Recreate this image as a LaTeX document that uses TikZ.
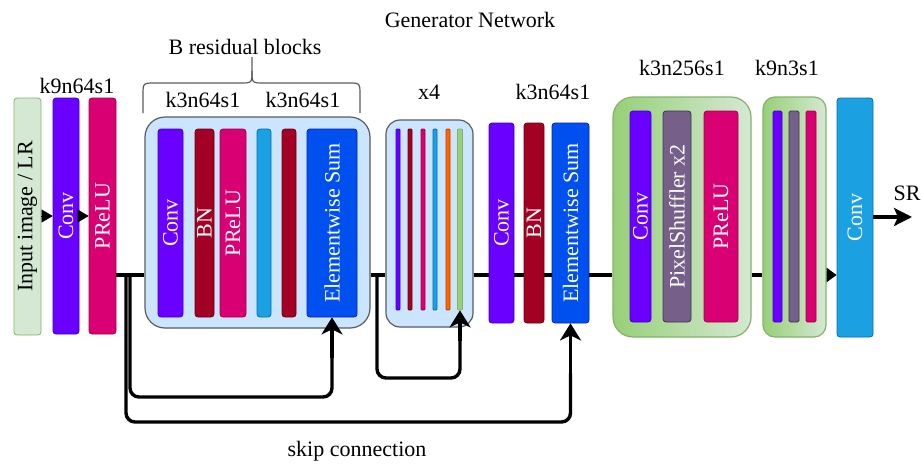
\documentclass[tikz,border=0pt]{standalone}
\usepackage{fontspec}
\setmainfont{Liberation Serif}
\usetikzlibrary{arrows.meta,calc}
\definecolor{cpurple}{HTML}{6A00FF}\definecolor{spurple}{HTML}{3700CC}
\definecolor{cpink}{HTML}{D80073}\definecolor{spink}{HTML}{A50040}
\definecolor{cdred}{HTML}{A20025}\definecolor{sdred}{HTML}{6F0000}
\definecolor{ccyan}{HTML}{1BA1E2}\definecolor{scyan}{HTML}{006EAF}
\definecolor{cblue}{HTML}{0050EF}\definecolor{sblue}{HTML}{001DBC}
\definecolor{corange}{HTML}{FA6800}\definecolor{sorange}{HTML}{C73500}
\definecolor{cmauve}{HTML}{76608A}\definecolor{smauve}{HTML}{432D57}
\definecolor{lgreen}{HTML}{D5E8D4}\definecolor{sgreen}{HTML}{82B366}
\definecolor{mgreen}{HTML}{97D077}
\definecolor{lblue}{HTML}{CCE5FF}\definecolor{sgray}{HTML}{5A5C60}
\tikzset{
  every node/.style={font=\fontsize{22}{26}\selectfont},
  bar/.style={draw, line width=0.8pt, rounded corners=3pt, inner sep=0pt},
  grp/.style={draw=sgray, line width=1.2pt, fill=lblue, inner sep=0pt},
  ggrp/.style={draw=sgreen, line width=1.2pt, left color=mgreen, right color=lgreen, inner sep=0pt},
  vtext/.style={rotate=90, text=white, inner sep=0pt},
  mainline/.style={line width=3.2pt},
  skipline/.style={line width=3.4pt, rounded corners=9pt},
  skiparrow/.style={line width=3.4pt, -{Stealth[length=17pt,width=21pt,inset=5pt]}},
  tri/.style={line width=0.5pt, -{Triangle[length=11pt,width=13pt]}},
  lbl/.style={inner sep=0pt}
}
\begin{document}
\begin{tikzpicture}[x=1pt,y=-1pt]
\useasboundingbox (0,0) rectangle (921,464);
% titles
\node[lbl] (title) at (470,20) {Generator Network};
\node[lbl] (brl) at (245,47) {B residual blocks};
\node[lbl] (k1) at (77,86) {k9n64s1};
\node[lbl] (k2) at (203,100) {k3n64s1};
\node[lbl] (k3) at (303,100) {k3n64s1};
\node[lbl] (k4) at (429,92) {x4};
\node[lbl] (k5) at (553,92) {k3n64s1};
\node[lbl] (k6) at (682,68) {k3n256s1};
\node[lbl] (k7) at (787,68) {k9n3s1};
\node[lbl] (sk) at (357,451) {skip connection};
% brace
\draw[line width=1.2pt, draw=sgray] (143,113) -- (143,95) .. controls (143,83) .. (155,83) -- (240,83) .. controls (252,83) .. (252,71) -- (252,57);
\draw[line width=1.2pt, draw=sgray] (360,113) -- (360,95) .. controls (360,83) .. (348,83) -- (264,83) .. controls (252,83) .. (252,71);
% groups
\node[grp, rounded corners=20pt, minimum width=225pt, minimum height=211pt] (res) at (257.5,222.5) {};
\node[grp, rounded corners=14pt, minimum width=87pt, minimum height=207pt] (xf) at (429.5,223.5) {};
\node[ggrp, rounded corners=20pt, minimum width=138pt, minimum height=240pt] (g1) at (682,217) {};
\node[ggrp, rounded corners=12pt, minimum width=63pt, minimum height=240pt] (g2) at (794.5,217) {};
% first blocks
\node[bar, draw=sgreen, fill=lgreen, minimum width=27pt, minimum height=237pt] (inp) at (27.5,216.5) {};
\node[vtext, text=black] (inpt) at (inp) {Input image / LR};
\node[bar, draw=spurple, fill=cpurple, minimum width=26pt, minimum height=236pt] (c1) at (66,216) {};
\node[vtext] (c1t) at (c1) {Conv};
\node[bar, draw=spink, fill=cpink, minimum width=27pt, minimum height=236pt] (p1) at (102.5,216) {};
\node[vtext] (p1t) at (p1) {PReLU};
% residual block
\node[bar, draw=spurple, fill=cpurple, minimum width=25pt, minimum height=188pt] (rc) at (170.5,223) {};
\node[vtext] (rct) at (rc) {Conv};
\node[bar, draw=sdred, fill=cdred, minimum width=19pt, minimum height=188pt] (rb) at (204.5,223) {};
\node[vtext] (rbt) at (rb) {BN};
\node[bar, draw=spink, fill=cpink, minimum width=26pt, minimum height=188pt] (rp) at (233,223) {};
\node[vtext] (rpt) at (rp) {PReLU};
\node[bar, draw=scyan, fill=ccyan, minimum width=14pt, minimum height=188pt] (rcy) at (264,223) {};
\node[bar, draw=sdred, fill=cdred, minimum width=14pt, minimum height=188pt] (rd) at (289,223) {};
\node[bar, draw=sblue, fill=cblue, minimum width=50pt, minimum height=188pt] (rs) at (332,223) {};
\node[vtext] (rst) at (rs) {Elementwise Sum};
% x4 lines
\node[bar, rounded corners=1pt, draw=spurple, fill=cpurple, minimum width=4pt, minimum height=181pt] (l1) at (398,219.5) {};
\node[bar, rounded corners=1pt, draw=sdred, fill=cdred, minimum width=4pt, minimum height=181pt] (l2) at (410,219.5) {};
\node[bar, rounded corners=1pt, draw=spink, fill=cpink, minimum width=4pt, minimum height=181pt] (l3) at (423,219.5) {};
\node[bar, rounded corners=1pt, draw=scyan, fill=ccyan, minimum width=4pt, minimum height=181pt] (l4) at (435,219.5) {};
\node[bar, rounded corners=1pt, draw=sorange, fill=corange, minimum width=4pt, minimum height=181pt] (l5) at (448,219.5) {};
\node[bar, rounded corners=1pt, draw=sgreen, fill=mgreen, minimum width=5pt, minimum height=181pt] (l6) at (460,219.5) {};
% after x4
\node[bar, draw=spurple, fill=cpurple, minimum width=25pt, minimum height=200pt] (c2) at (501.5,223) {};
\node[vtext] (c2t) at (c2) {Conv};
\node[bar, draw=sdred, fill=cdred, minimum width=20pt, minimum height=200pt] (b2) at (534,223) {};
\node[vtext] (b2t) at (b2) {BN};
\node[bar, draw=sblue, fill=cblue, minimum width=37pt, minimum height=200pt] (s2) at (570.5,223) {};
\node[vtext] (s2t) at (s2) {Elementwise Sum};
% upsampling block
\node[bar, draw=spurple, fill=cpurple, minimum width=21pt, minimum height=211pt] (c3) at (640.5,216.5) {};
\node[vtext] (c3t) at (c3) {Conv};
\node[bar, draw=smauve, fill=cmauve, minimum width=28pt, minimum height=211pt] (ps) at (677,216.5) {};
\node[vtext] (pst) at (ps) {PixelShuffler x2};
\node[bar, draw=spink, fill=cpink, minimum width=34pt, minimum height=211pt] (p3) at (721,216.5) {};
\node[vtext] (p3t) at (p3) {PReLU};
% thin block
\node[bar, rounded corners=1.5pt, draw=spurple, fill=cpurple, minimum width=9pt, minimum height=211pt] (t1) at (777.5,216.5) {};
\node[bar, rounded corners=1.5pt, draw=smauve, fill=cmauve, minimum width=10pt, minimum height=211pt] (t2) at (794,216.5) {};
\node[bar, rounded corners=1.5pt, draw=spink, fill=cpink, minimum width=10pt, minimum height=211pt] (t3) at (811,216.5) {};
% final conv
\node[bar, draw=scyan, fill=ccyan, minimum width=36pt, minimum height=239pt] (cf) at (855,217.5) {};
\node[vtext] (cft) at (cf) {Conv};
\node[lbl] (sr) at (907,193) {SR};
\coordinate (srend) at (912,217);
% coordinates
\coordinate (m) at (0,275);
\coordinate (j2) at (377,275);
% small arrows
\draw[tri] (inp.east |- 0,216) -- (c1.west |- 0,216);
\draw[tri] (c1.east |- 0,216) -- (p1.west |- 0,216);
% main line
\draw[mainline] (p1.east |- m) -- (res.west |- m);
\draw[mainline] (res.east |- m) -- (xf.west |- m);
\draw[mainline] (xf.east |- m) -- (c2.west |- m);
\draw[mainline] (c2.east |- m) -- (b2.west |- m);
\draw[mainline] (b2.east |- m) -- (s2.west |- m);
\draw[mainline] (s2.east |- m) -- (g1.west |- m);
\draw[mainline] (g1.east |- m) -- (g2.west |- m);
\draw[line width=3.2pt, -{Triangle[length=10pt,width=14pt]}] (g2.east |- m) -- (cf.west |- m);
\draw[line width=3.2pt, -{Stealth[length=18pt,width=18pt,inset=4pt]}] (cf.east |- srend) -- (srend);
% skip connections
\coordinate (a1) at (130,275);
\coordinate (a2) at (126,275);
\coordinate (e1) at ($(rs.south)+(0,40)$);
\coordinate (e2) at ($(s2.south)+(0,50)$);
\coordinate (e3) at ($(l6.south)+(0,30)$);
\draw[skipline] (a1) -- (130,397) -- (rs.south |- 0,397) -- (e1);
\draw[skiparrow] ($(e1)+(0,1)$) -- (rs.south);
\draw[skipline] (a2) -- (126,422) -- (s2.south |- 0,422) -- (e2);
\draw[skiparrow] ($(e2)+(0,1)$) -- (s2.south);
\draw[skipline] (j2) -- (377,378) -- (l6.south |- 0,378) -- (e3);
\draw[skiparrow] ($(e3)+(0,1)$) -- (l6.south);
\end{tikzpicture}
\end{document}
